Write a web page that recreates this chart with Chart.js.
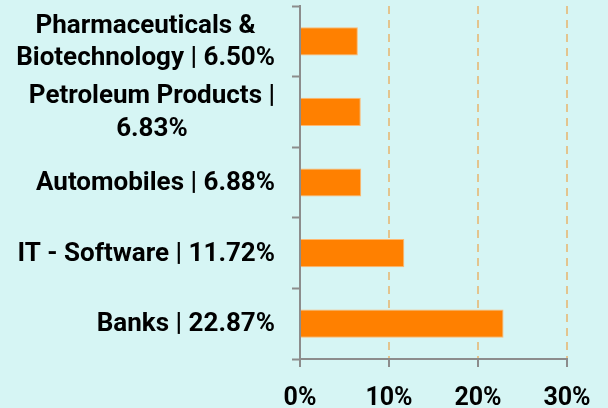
<!DOCTYPE html>
<html>
<head>
<meta charset="utf-8">
<script src="https://cdn.jsdelivr.net/npm/chart.js@4"></script>
<style>
  html, body { margin: 0; padding: 0; background: #d6f5f4; }
  #wrap { width: 608px; height: 408px; }
</style>
</head>
<body>
<div id="wrap"><canvas id="sectorChart" width="608" height="408"></canvas></div>
<script>
// Sector allocation data
const sectorLabels = [
    ['Pharmaceuticals &', 'Biotechnology | 6.50%'],
    ['Petroleum Products |', '6.83%'],
    'Automobiles | 6.88%',
    'IT - Software | 11.72%',
    'Banks | 22.87%'
];
const sectorWeights = [6.50, 6.83, 6.88, 11.72, 22.87];
const axisTicks = [0, 10, 20, 30];

const labelFont = { family: 'Roboto', weight: 'bold', size: 26, lineHeight: 1.25 };

// Draw y labels right-aligned as a block, with each line centred inside it
const blockLabels = {
    id: 'blockLabels',
    afterDraw(chart) {
        const ctx = chart.ctx;
        const yScale = chart.scales.y;
        const rightEdge = yScale.right - 8 - 17;
        const lineH = labelFont.size * labelFont.lineHeight;
        ctx.save();
        ctx.font = `${labelFont.weight} ${labelFont.size}px ${labelFont.family}`;
        ctx.fillStyle = '#000';
        ctx.textAlign = 'center';
        ctx.textBaseline = 'middle';
        sectorLabels.forEach(function(label, i) {
            const lines = Array.isArray(label) ? label : [label];
            const maxW = Math.max(...lines.map(l => ctx.measureText(l).width));
            const cx = rightEdge - maxW / 2;
            const cy = yScale.getPixelForTick(i);
            const start = cy - (lines.length - 1) * lineH / 2;
            lines.forEach(function(line, j) {
                ctx.fillText(line, cx, start + j * lineH + 1);
            });
        });
        ctx.restore();
    }
};

new Chart(document.getElementById('sectorChart').getContext('2d'), {
    type: 'bar',
    data: {
        labels: sectorLabels,
        datasets: [{
            data: sectorWeights,
            backgroundColor: '#ff8000',
            borderColor: '#ffb870',
            borderWidth: 1,
            barPercentage: 0.5,
            categoryPercentage: 0.8
        }]
    },
    options: {
        indexAxis: 'y',
        responsive: false,
        animation: false,
        layout: { padding: { top: 6, right: 41, left: 0, bottom: 0 } },
        plugins: {
            legend: { display: false },
            tooltip: { enabled: false }
        },
        scales: {
            x: {
                min: axisTicks[0],
                max: axisTicks[axisTicks.length - 1],
                afterBuildTicks: function(scale) {
                    scale.ticks = axisTicks.map(v => ({ value: v }));
                },
                afterFit: function(scale) { scale.height = 49; },
                grid: {
                    color: '#e3c48e',
                    lineWidth: 2,
                    tickColor: '#8c8c8c',
                    tickLength: 8,
                    tickWidth: 2
                },
                border: { color: '#8c8c8c', width: 2, dash: [8, 6] },
                ticks: {
                    color: '#000',
                    font: Object.assign({}, labelFont, { size: 25, lineHeight: 1.2 }),
                    padding: 17,
                    callback: function(value) { return value + '%'; }
                }
            },
            y: {
                afterFit: function(scale) { scale.width = 300; },
                grid: {
                    drawOnChartArea: false,
                    tickColor: '#8c8c8c',
                    tickLength: 8,
                    tickWidth: 2
                },
                border: { color: '#8c8c8c', width: 2 },
                ticks: { display: false }
            }
        }
    },
    plugins: [blockLabels]
});
</script>
</body>
</html>
